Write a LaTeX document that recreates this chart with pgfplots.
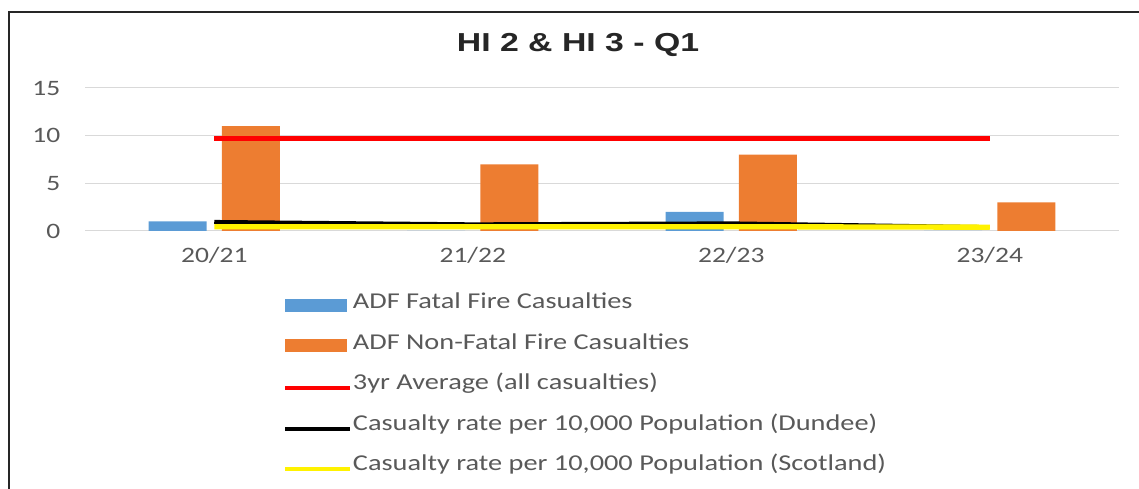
\documentclass[border=0pt]{standalone}
\usepackage{fontspec}
\setmainfont{Carlito}[FakeStretch=1.25]
\newfontfamily\titlefont{Liberation Sans}[FakeStretch=1.3]
\usepackage{pgfplots}
\pgfplotsset{compat=1.18}
\definecolor{cblue}{HTML}{5B9BD5}
\definecolor{corange}{HTML}{ED7D31}
\definecolor{ctext}{HTML}{595959}
\definecolor{cgrid}{HTML}{D9D9D9}
\begin{document}
\begin{tikzpicture}[x=0.75pt,y=0.75pt]
\useasboundingbox (0,0) rectangle (1139,489);
\begin{axis}[
  at={(63.75pt,193.5pt)}, anchor=south west,
  scale only axis,
  width=775.5pt, height=107.25pt,
  xmin=-0.5, xmax=3.5, ymin=0, ymax=15,
  clip=false,
  xtick={0,1,2,3},
  xticklabels={20/21,21/22,22/23,23/24},
  ytick={0,5,10,15},
  ymajorgrids,
  grid style={cgrid, line width=0.75pt},
  axis line style={draw=none},
  major tick length=0pt,
  tick label style={font=\fontsize{16.5pt}{19pt}\selectfont, text=ctext},
  yticklabel style={anchor=east, xshift=-15pt},
  xticklabel style={anchor=north, yshift=-9pt},
  /pgf/number format/assume math mode=true,
  legend style={at={(0.1915,-0.423)}, anchor=north west, draw=none, fill=none,
    font=\fontsize{17pt}{20pt}\selectfont, text=ctext,
    row sep=11.45pt, inner sep=0pt,
    nodes={inner sep=0.5pt, text height=12pt, text depth=6pt, anchor=west}},
  legend cell align=left,
]
\addplot[ybar, bar width=43.5pt, bar shift=-27.4pt, fill=cblue, draw=none,
  legend image code/.code={\fill[cblue] (0pt,-5.5pt) rectangle (46.5pt,4.3pt);}]
  coordinates {(0,1) (1,0) (2,2) (3,0)};
\addlegendentry{ADF Fatal Fire Casualties}
\addplot[ybar, bar width=43.5pt, bar shift=27.4pt, fill=corange, draw=none,
  legend image code/.code={\fill[corange] (0pt,-5.5pt) rectangle (46.5pt,4.3pt);}]
  coordinates {(0,11) (1,7) (2,8) (3,3)};
\addlegendentry{ADF Non-Fatal Fire Casualties}
\addplot[red, line width=3.75pt, mark=none,
  legend image code/.code={\draw[red, line width=3pt] (0pt,-2pt) -- (48.75pt,-2pt);}]
  coordinates {(0,9.67) (1,9.67) (2,9.67) (3,9.67)};
\addlegendentry{3yr Average (all casualties)}
\addplot[black, line width=3pt, mark=none,
  legend image code/.code={\draw[black, line width=3pt] (0pt,-2pt) -- (48.75pt,-2pt);}]
  coordinates {(0,0.95) (1,0.7) (2,0.8) (3,0.4)};
\addlegendentry{Casualty rate per 10,000 Population (Dundee)}
\addplot[yellow, line width=4pt, mark=none,
  legend image code/.code={\draw[yellow, line width=3pt] (0pt,-2pt) -- (48.75pt,-2pt);}]
  coordinates {(0,0.45) (1,0.45) (2,0.45) (3,0.4)};
\addlegendentry{Casualty rate per 10,000 Population (Scotland)}
\end{axis}
\node[font=\titlefont\bfseries\fontsize{19.5pt}{22pt}\selectfont, text=black!85] at (578,444) {HI 2 \& HI 3 - Q1};
\draw[black!85, line width=1.5pt] (9,0) -- (9,477) -- (1139,477);
\end{tikzpicture}
\end{document}
